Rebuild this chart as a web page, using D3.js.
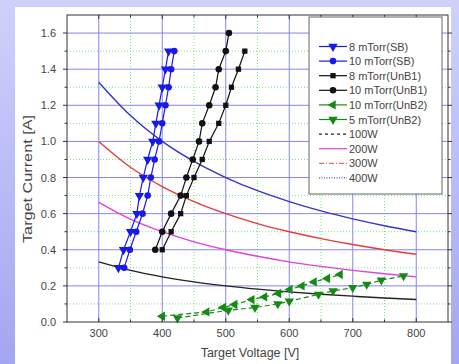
<!DOCTYPE html>
<html>
<head>
<meta charset="utf-8">
<script src="https://cdn.jsdelivr.net/npm/d3@7"></script>
<style>
  body { margin: 0; padding: 0; }
  svg { display: block; font-family: "Liberation Sans", Arial, sans-serif; }
</style>
</head>
<body>
<div class="chart-container"></div>
<script>
// ---- data ----
const powerVolts = [300, 350, 400, 450, 500, 550, 600, 650, 700, 750, 800];
const w100 = [0.333, 0.286, 0.25, 0.222, 0.20, 0.182, 0.167, 0.154, 0.143, 0.133, 0.125];
const w200 = [0.663, 0.57, 0.50, 0.444, 0.40, 0.364, 0.333, 0.308, 0.286, 0.267, 0.25];
const w300 = [1.0, 0.857, 0.75, 0.667, 0.60, 0.545, 0.50, 0.462, 0.429, 0.40, 0.375];
const w400 = [1.328, 1.143, 1.0, 0.889, 0.80, 0.727, 0.667, 0.615, 0.571, 0.533, 0.50];

const sbCurrent = [0.3, 0.4, 0.5, 0.6, 0.7, 0.8, 0.9, 1.0, 1.1, 1.2, 1.3, 1.4, 1.5];
const sb8Volt = [331, 339, 350, 360, 364, 370, 377, 385, 390, 395, 400, 405, 410];
const sb10Volt = [340, 349, 359, 369, 377, 382, 388, 395, 400, 405, 410, 414, 419];

const unb1_8Current = [0.4, 0.5, 0.6, 0.7, 0.8, 0.9, 1.0, 1.1, 1.2, 1.3, 1.4, 1.5];
const unb1_8Volt = [400, 414, 429, 438, 450, 463, 474, 489, 500, 509, 520, 530];
const unb1_10Current = [0.4, 0.5, 0.6, 0.7, 0.8, 0.9, 1.0, 1.1, 1.2, 1.3, 1.4, 1.5, 1.6];
const unb1_10Volt = [389, 400, 414, 429, 438, 448, 458, 463, 474, 484, 489, 500, 505];

const unb2_10Volt = [400, 470, 496, 514, 541, 561, 583, 601, 620, 639, 660, 680];
const unb2_10Current = [0.032, 0.056, 0.08, 0.097, 0.124, 0.139, 0.158, 0.18, 0.20, 0.222, 0.241, 0.263];
const unb2_5Volt = [424, 504, 546, 582, 600, 646, 669, 700, 722, 745, 780];
const unb2_5Current = [0.022, 0.065, 0.08, 0.10, 0.115, 0.153, 0.172, 0.19, 0.208, 0.232, 0.255];

const xTicks = [300, 400, 500, 600, 700, 800];
const yTicks = [0.0, 0.2, 0.4, 0.6, 0.8, 1.0, 1.2, 1.4, 1.6];

const legendNames = ['8 mTorr(SB)', '10 mTorr(SB)', '8 mTorr(UnB1)', '10 mTorr(UnB1)',
  '10 mTorr(UnB2)', '5 mTorr(UnB2)', '100W', '200W', '300W', '400W'];

// ---- layout ----
const W = 459, H = 364;
const pLeft = 67, pTop = 15, pRight = 448, pBottom = 322;

const svg = d3.select('.chart-container').append('svg')
  .attr('width', W).attr('height', H);

const defs = svg.append('defs');
const grad = defs.append('linearGradient').attr('id', 'bg')
  .attr('x1', 0).attr('y1', 0).attr('x2', 0).attr('y2', 1);
grad.append('stop').attr('offset', '0%').attr('stop-color', '#cfd1fb');
grad.append('stop').attr('offset', '100%').attr('stop-color', '#a3a6f0');

svg.append('rect').attr('width', W).attr('height', H).attr('fill', 'url(#bg)');
svg.append('rect').attr('x', 15).attr('y', 7).attr('width', 436).attr('height', H - 7)
  .attr('fill', '#fff');

const x = d3.scaleLinear().domain([250, 850]).range([pLeft, pRight]);
const y = d3.scaleLinear().domain([0, 1.7]).range([pBottom, pTop]);

// grid
const grid = svg.append('g');
const minorX = d3.range(350, 850, 100);
const minorY = d3.range(0.1, 1.7, 0.2);
grid.selectAll('.mx').data(minorX).enter().append('line')
  .attr('x1', d => x(d)).attr('x2', d => x(d)).attr('y1', pTop).attr('y2', pBottom)
  .attr('stroke', '#7fe07f').attr('stroke-width', 1).attr('stroke-dasharray', '1,2');
grid.selectAll('.my').data(minorY).enter().append('line')
  .attr('y1', d => y(d)).attr('y2', d => y(d)).attr('x1', pLeft).attr('x2', pRight)
  .attr('stroke', '#7fe07f').attr('stroke-width', 1).attr('stroke-dasharray', '1,2');
grid.selectAll('.gx').data(xTicks).enter().append('line')
  .attr('x1', d => x(d)).attr('x2', d => x(d)).attr('y1', pTop).attr('y2', pBottom)
  .attr('stroke', '#8484f4').attr('stroke-width', 1);
grid.selectAll('.gy').data(yTicks.slice(1)).enter().append('line')
  .attr('y1', d => y(d)).attr('y2', d => y(d)).attr('x1', pLeft).attr('x2', pRight)
  .attr('stroke', '#8484f4').attr('stroke-width', 1);

// constant power curves
const powerLine = d3.line().x(d => x(d[0])).y(d => y(d[1])).curve(d3.curveMonotoneX);
const powerSets = [
  {vals: w100, color: '#222222'},
  {vals: w200, color: '#e040e0'},
  {vals: w300, color: '#e83a3a'},
  {vals: w400, color: '#3535c8'}
];
powerSets.forEach(p => {
  svg.append('path')
    .datum(powerVolts.map((v, i) => [v, p.vals[i]]))
    .attr('d', powerLine)
    .attr('fill', 'none').attr('stroke', p.color).attr('stroke-width', 1.4);
});

// marker shapes
const sym = {
  down: d3.symbol().type(d3.symbolTriangle).size(38),
  circle: d3.symbol().type(d3.symbolCircle).size(34),
  square: d3.symbol().type(d3.symbolSquare).size(28)
};
function marker(g, type, cx, cy, color) {
  if (type === 'left') {
    g.append('path').attr('d', sym.down())
      .attr('transform', `translate(${cx},${cy}) rotate(-90)`).attr('fill', color);
  } else if (type === 'down') {
    g.append('path').attr('d', sym.down())
      .attr('transform', `translate(${cx},${cy}) rotate(180)`).attr('fill', color);
  } else {
    g.append('path').attr('d', sym[type]())
      .attr('transform', `translate(${cx},${cy})`).attr('fill', color);
  }
}

const seriesLine = d3.line().x(d => x(d[0])).y(d => y(d[1]));
const series = [
  {v: sb8Volt, c: sbCurrent, color: '#1a1ae6', mark: 'down', dash: null},
  {v: sb10Volt, c: sbCurrent, color: '#1a1ae6', mark: 'circle', dash: null},
  {v: unb1_8Volt, c: unb1_8Current, color: '#111111', mark: 'square', dash: null},
  {v: unb1_10Volt, c: unb1_10Current, color: '#111111', mark: 'circle', dash: null},
  {v: unb2_10Volt, c: unb2_10Current, color: '#168a16', mark: 'left', dash: '5,3'},
  {v: unb2_5Volt, c: unb2_5Current, color: '#168a16', mark: 'down', dash: '5,3'}
];
series.forEach(s => {
  const pts = s.v.map((v, i) => [v, s.c[i]]);
  const g = svg.append('g');
  g.append('path').datum(pts).attr('d', seriesLine)
    .attr('fill', 'none').attr('stroke', s.color).attr('stroke-width', 1.2)
    .attr('stroke-dasharray', s.dash);
  pts.forEach(p => marker(g, s.mark, x(p[0]), y(p[1]), s.color));
});

// frame and axes
svg.append('rect').attr('x', pLeft).attr('y', pTop)
  .attr('width', pRight - pLeft).attr('height', pBottom - pTop)
  .attr('fill', 'none').attr('stroke', '#333').attr('stroke-width', 1);

const axG = svg.append('g').attr('stroke', '#333').attr('stroke-width', 1);
const allX = d3.range(300, 850, 50);
allX.forEach(v => {
  const len = v % 100 === 0 ? 4 : 2.5;
  axG.append('line').attr('x1', x(v)).attr('x2', x(v)).attr('y1', pBottom).attr('y2', pBottom - len);
  axG.append('line').attr('x1', x(v)).attr('x2', x(v)).attr('y1', pTop).attr('y2', pTop + len);
});
const allY = d3.range(0, 17).map(i => i / 10);
allY.forEach(v => {
  const len = (Math.round(v * 10) % 2 === 0) ? 4 : 2.5;
  axG.append('line').attr('y1', y(v)).attr('y2', y(v)).attr('x1', pLeft).attr('x2', pLeft - len);
  axG.append('line').attr('y1', y(v)).attr('y2', y(v)).attr('x1', pRight).attr('x2', pRight + len);
});

svg.append('g').selectAll('text').data(xTicks).enter().append('text')
  .attr('x', d => x(d)).attr('y', 337).attr('text-anchor', 'middle')
  .attr('font-size', 11).attr('fill', '#444').text(d => d);
svg.append('g').selectAll('text').data(yTicks).enter().append('text')
  .attr('x', 56).attr('y', d => y(d) + 4).attr('text-anchor', 'end')
  .attr('font-size', 11).attr('fill', '#444').text(d => d.toFixed(1));

svg.append('text').attr('x', 250).attr('y', 357).attr('text-anchor', 'middle')
  .attr('font-size', 12.5).attr('fill', '#444').text('Target Voltage [V]');
svg.append('text').attr('transform', 'translate(32,179) rotate(-90)')
  .attr('text-anchor', 'middle').attr('font-size', 13).attr('fill', '#444')
  .attr('textLength', 128).attr('lengthAdjust', 'spacingAndGlyphs')
  .text('Target Current [A]');

// legend
const legend = svg.append('g');
legend.append('rect').attr('x', 309).attr('y', 17).attr('width', 133).attr('height', 177)
  .attr('fill', '#fff').attr('stroke', '#666').attr('stroke-width', 1);
const legendStyle = [
  {color: '#1a1ae6', mark: 'down', dash: null},
  {color: '#1a1ae6', mark: 'circle', dash: null},
  {color: '#111111', mark: 'square', dash: null},
  {color: '#111111', mark: 'circle', dash: null},
  {color: '#168a16', mark: 'left', dash: null},
  {color: '#168a16', mark: 'down', dash: null},
  {color: '#222222', mark: null, dash: '3,3'},
  {color: '#e040e0', mark: null, dash: null},
  {color: '#e86a6a', mark: null, dash: '5,2,1,2'},
  {color: '#5050c8', mark: null, dash: '1,1.5'}
];
legendNames.forEach((name, i) => {
  const ly = 46.5 + i * 14.6;
  const st = legendStyle[i];
  legend.append('line').attr('x1', 319).attr('x2', 347).attr('y1', ly).attr('y2', ly)
    .attr('stroke', st.color).attr('stroke-width', 1.2).attr('stroke-dasharray', st.dash);
  if (st.mark) marker(legend, st.mark, 333, ly, st.color);
  legend.append('text').attr('x', 349).attr('y', ly + 4)
    .attr('font-size', 11).attr('fill', '#444').text(name);
});
</script>
</body>
</html>
